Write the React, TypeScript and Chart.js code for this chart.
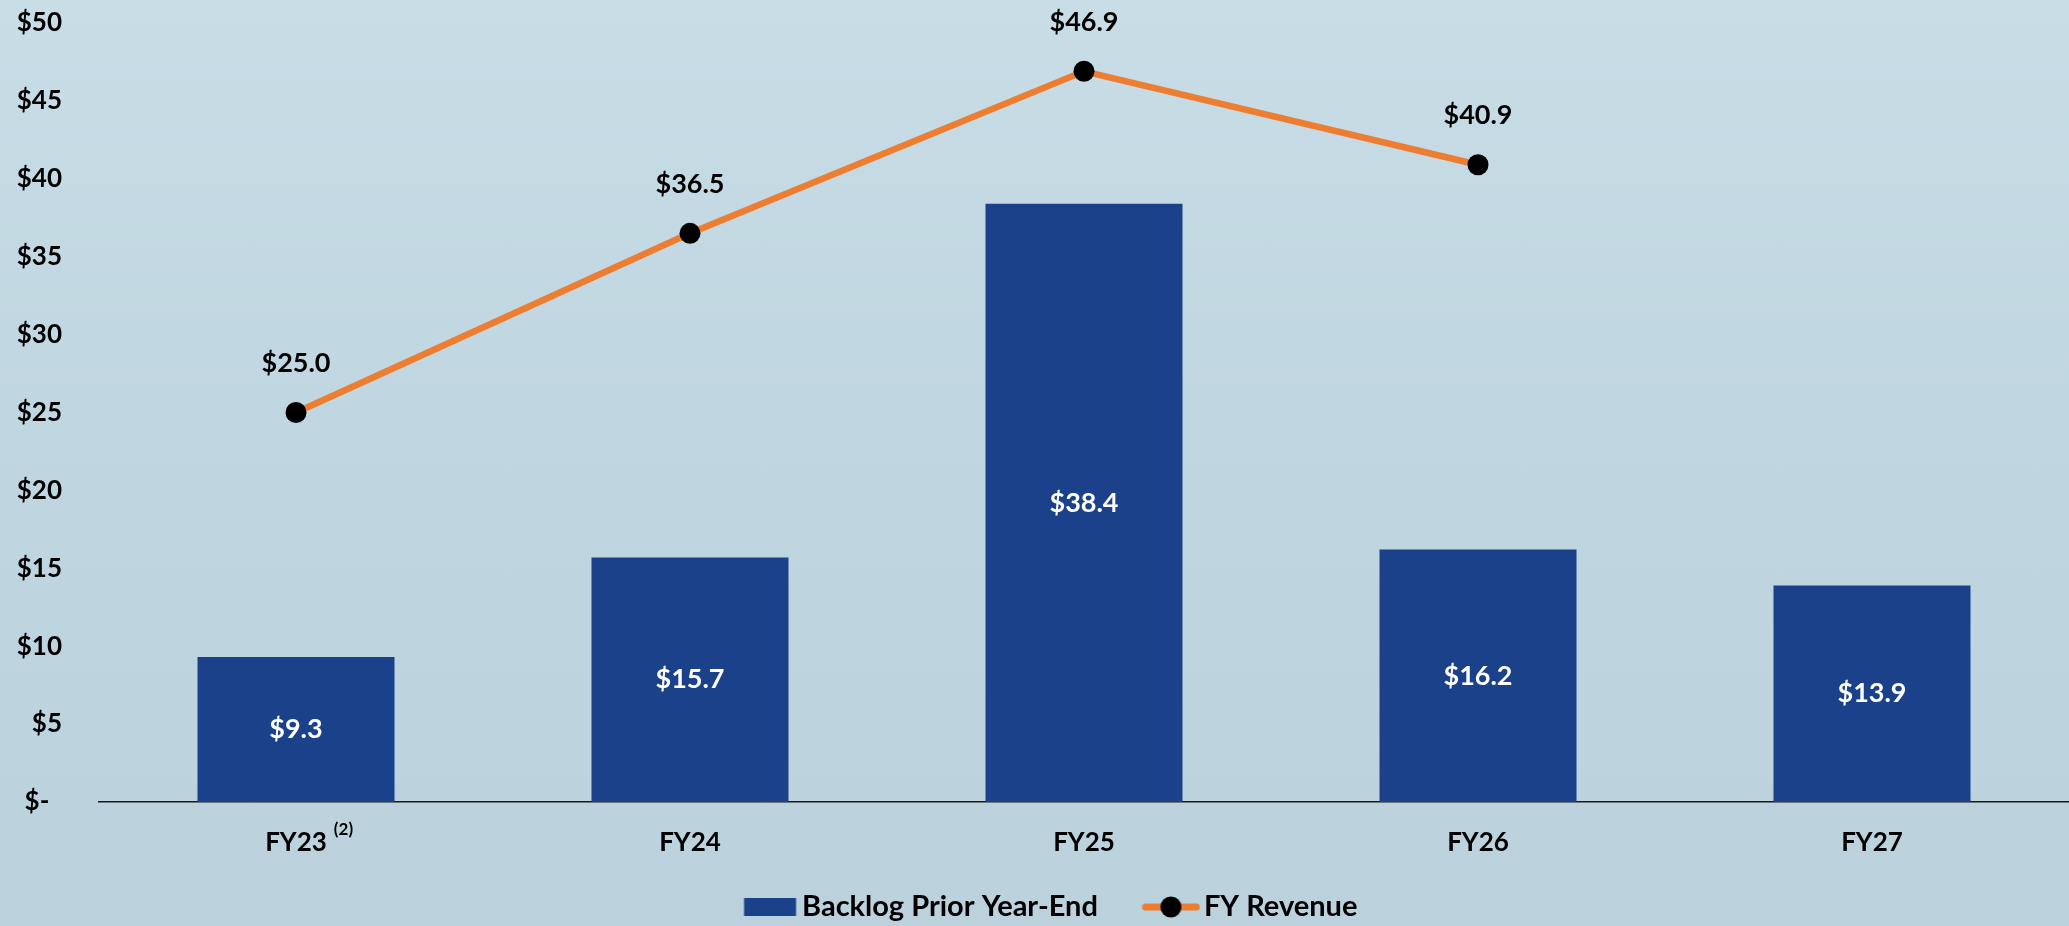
import React, { useEffect, useRef } from "react";
import { Chart, registerables } from "chart.js";

Chart.register(...registerables);

const categories = ["FY23", "FY24", "FY25", "FY26", "FY27"];
const categoryNotes = ["(2)", "", "", "", ""];
const backlogValues = [9.3, 15.7, 38.4, 16.2, 13.9];
const revenueValues: (number | null)[] = [25.0, 36.5, 46.9, 40.9, null];
const seriesNames = ["Backlog Prior Year-End", "FY Revenue"];
const yMin = 0;
const yMax = 50;
const yStep = 5;

const BAR_COLOR = "#1a418a";
const LINE_COLOR = "#ed7d31";
const FONT = "Lato";

function money(v: number): string {
  return "$" + v.toFixed(1);
}

function makeBarIcon(): HTMLCanvasElement {
  const c = document.createElement("canvas");
  c.width = 80;
  c.height = 18;
  const g = c.getContext("2d")!;
  g.fillStyle = BAR_COLOR;
  g.fillRect(25.5, 0, 52, 18);
  return c;
}

function makeLineIcon(): HTMLCanvasElement {
  const c = document.createElement("canvas");
  c.width = 80;
  c.height = 22;
  const g = c.getContext("2d")!;
  g.strokeStyle = LINE_COLOR;
  g.lineWidth = 7;
  g.lineCap = "round";
  g.beginPath();
  g.moveTo(25, 11);
  g.lineTo(76, 11);
  g.stroke();
  g.fillStyle = "#000";
  g.beginPath();
  g.arc(50.5, 11, 10.5, 0, Math.PI * 2);
  g.fill();
  return c;
}

const labelsPlugin = {
  id: "valueLabels",
  afterDatasetsDraw(chart: any) {
    const ctx = chart.ctx;
    ctx.save();
    ctx.textAlign = "center";
    ctx.textBaseline = "middle";
    ctx.font = `bold 27px ${FONT}`;
    const barMeta = chart.getDatasetMeta(0);
    barMeta.data.forEach((el: any, i: number) => {
      const v = backlogValues[i];
      if (v == null) return;
      ctx.fillStyle = "#ffffff";
      ctx.fillText(money(v), el.x, (el.y + el.base) / 2);
    });
    const lineMeta = chart.getDatasetMeta(1);
    lineMeta.data.forEach((el: any, i: number) => {
      const v = revenueValues[i];
      if (v == null || el.skip) return;
      ctx.fillStyle = "#000000";
      ctx.fillText(money(v), el.x, el.y - 49);
    });
    ctx.restore();
  },
  afterDraw(chart: any) {
    const ctx = chart.ctx;
    const xs = chart.scales.x;
    ctx.save();
    categoryNotes.forEach((note, i) => {
      if (!note) return;
      ctx.font = `bold 26px ${FONT}`;
      const w = ctx.measureText(categories[i]).width;
      const x = xs.getPixelForTick(i) + w / 2 + 7;
      ctx.font = `bold 17px ${FONT}`;
      ctx.fillStyle = "#000";
      ctx.textAlign = "left";
      ctx.textBaseline = "middle";
      ctx.fillText(note, x, xs.top + 28);
    });
    ctx.restore();
  },
};

const legendShiftPlugin = {
  id: "legendShift",
  afterLayout(chart: any) {
    const lg = chart.legend;
    if (!lg) return;
    lg.left += 8;
    lg.right += 8;
    lg.top += 5.5;
    lg.bottom += 5.5;
  },
};

export default function App() {
  const ref = useRef<HTMLCanvasElement | null>(null);

  useEffect(() => {
    document.body.style.margin = "0";
    const canvas = ref.current;
    if (!canvas) return;
    const barIcon = makeBarIcon();
    const lineIcon = makeLineIcon();

    const chart = new Chart(canvas, {
      data: {
        labels: categories,
        datasets: [
          {
            type: "bar",
            label: seriesNames[0],
            data: backlogValues,
            backgroundColor: BAR_COLOR,
            borderWidth: 0,
            barPercentage: 0.5,
            categoryPercentage: 1.0,
            order: 1,
          } as any,
          {
            type: "line",
            label: seriesNames[1],
            data: revenueValues,
            borderColor: LINE_COLOR,
            backgroundColor: "#000",
            borderWidth: 6.5,
            pointRadius: 10.5,
            pointHoverRadius: 10.5,
            pointBackgroundColor: "#000",
            pointBorderWidth: 0,
            tension: 0,
            spanGaps: false,
            clip: false,
            order: 0,
          } as any,
        ],
      },
      options: {
        responsive: false,
        animation: false,
        layout: { autoPadding: false, padding: { top: 23, right: -2, bottom: 0, left: 0 } },
        plugins: {
          tooltip: { enabled: false },
          legend: {
            display: true,
            position: "bottom",
            labels: {
              usePointStyle: true,
              pointStyleWidth: 58,
              boxHeight: 18,
              padding: 33.5,
              color: "#000",
              font: { family: FONT, size: 29, weight: "bold" },
              generateLabels: () => [
                {
                  text: seriesNames[0],
                  fillStyle: BAR_COLOR,
                  strokeStyle: BAR_COLOR,
                  lineWidth: 0,
                  pointStyle: barIcon as any,
                  hidden: false,
                  datasetIndex: 0,
                },
                {
                  text: seriesNames[1],
                  fillStyle: "#000",
                  strokeStyle: LINE_COLOR,
                  lineWidth: 0,
                  pointStyle: lineIcon as any,
                  hidden: false,
                  datasetIndex: 1,
                },
              ],
            },
          },
        },
        scales: {
          x: {
            type: "category",
            offset: true,
            grid: { display: false, drawTicks: false },
            border: { display: true, color: "#1a1a1a", width: 1.5 },
            ticks: {
              color: "#000",
              padding: 25,
              font: { family: FONT, size: 26, weight: "bold" },
            },
            afterFit: (s: any) => {
              s.height = 51.5;
            },
          },
          y: {
            min: yMin,
            max: yMax,
            grid: { display: false, drawTicks: true, tickLength: 37 },
            border: { display: false },
            ticks: {
              stepSize: yStep,
              color: "#000",
              padding: 0,
              font: { family: FONT, size: 26, weight: "bold" },
              callback: (v: any) => (Number(v) === 0 ? "$-  " : "$" + v),
            },
            afterFit: (s: any) => {
              s.width = 99;
            },
          },
        },
      },
      plugins: [labelsPlugin, legendShiftPlugin],
    });
    return () => chart.destroy();
  }, []);

  return (
    <div
      style={{
        width: 2069,
        height: 926,
        background: "linear-gradient(180deg, #c8dde6 0%, #c0d6e0 45%, #bbd2dc 100%)",
      }}
    >
      <canvas ref={ref} width={2069} height={926} style={{ display: "block" }} />
    </div>
  );
}
